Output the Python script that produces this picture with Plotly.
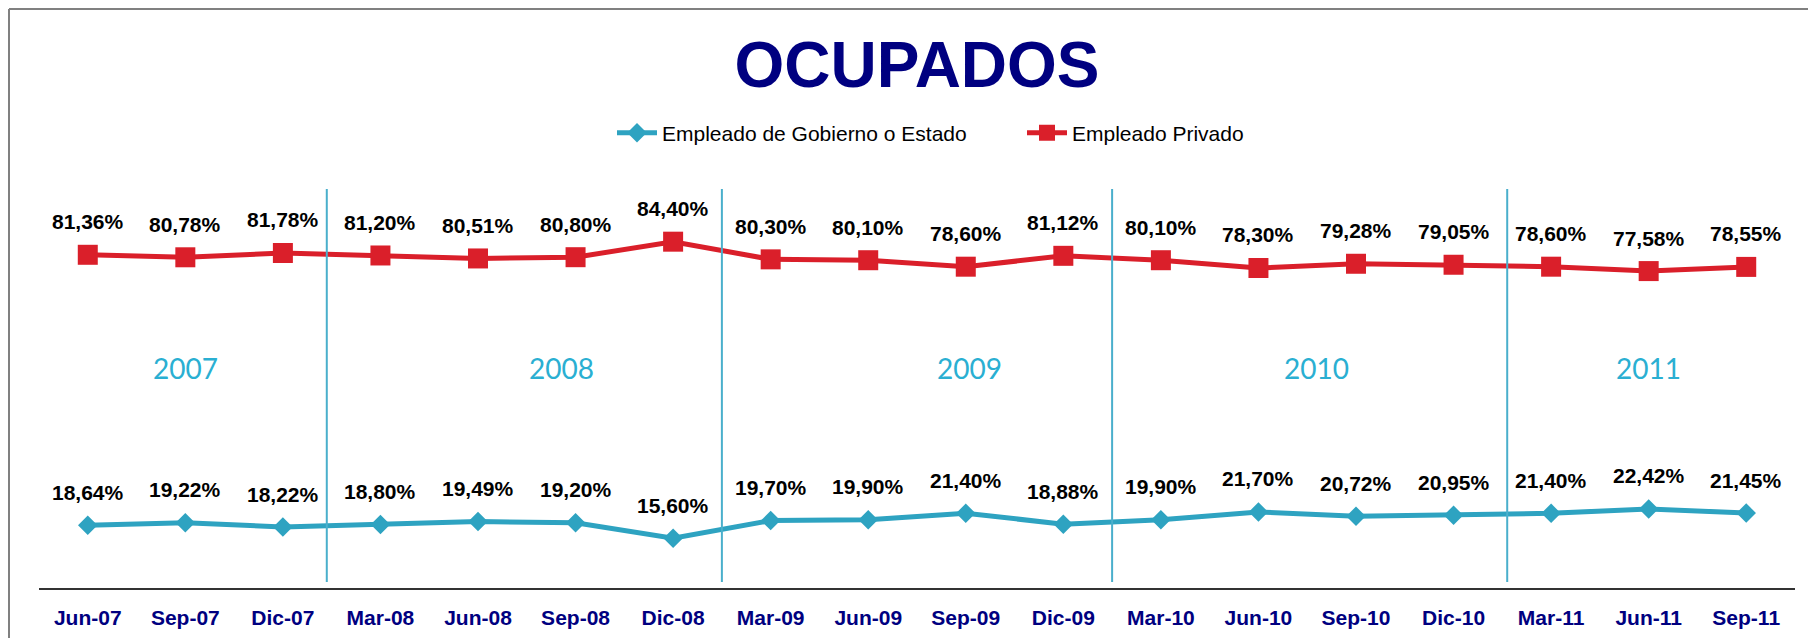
import plotly.graph_objects as go

categories = ["Jun-07", "Sep-07", "Dic-07", "Mar-08", "Jun-08", "Sep-08", "Dic-08",
              "Mar-09", "Jun-09", "Sep-09", "Dic-09", "Mar-10", "Jun-10", "Sep-10",
              "Dic-10", "Mar-11", "Jun-11", "Sep-11"]
gobierno = [18.64, 19.22, 18.22, 18.80, 19.49, 19.20, 15.60, 19.70, 19.90, 21.40,
            18.88, 19.90, 21.70, 20.72, 20.95, 21.40, 22.42, 21.45]
privado = [81.36, 80.78, 81.78, 81.20, 80.51, 80.80, 84.40, 80.30, 80.10, 78.60,
           81.12, 80.10, 78.30, 79.28, 79.05, 78.60, 77.58, 78.55]
years = ["2007", "2008", "2009", "2010", "2011"]
year_pos = [1.0, 4.86, 9.04, 12.6, 16.0]
separators = [2.45, 6.5, 10.5, 14.55]

RED = "#DA1F2A"
BLUE = "#2EA3C1"
NAVY = "#000080"
YEAR_C = "#2AAFD2"

x_idx = list(range(len(categories)))

fig = go.Figure()
fig.add_trace(go.Scatter(
    x=x_idx, y=gobierno, mode="lines+markers", name="Empleado de Gobierno o Estado",
    line=dict(color=BLUE, width=5),
    marker=dict(symbol="diamond", size=15, color=BLUE),
))
fig.add_trace(go.Scatter(
    x=x_idx, y=privado, mode="lines+markers", name="Empleado Privado",
    line=dict(color=RED, width=5),
    marker=dict(symbol="square", size=20, color=RED),
))

def fmt(v):
    return "<b>" + f"{v:.2f}".replace(".", ",") + "%</b>"

annotations = []
for series in (gobierno, privado):
    for i, v in enumerate(series):
        annotations.append(dict(
            x=i, y=v, xref="x", yref="y", text=fmt(v), showarrow=False,
            yshift=33, font=dict(family="Liberation Sans, Arial", size=21, color="#000000"),
            xanchor="center", yanchor="middle",
        ))
for yr, pos in zip(years, year_pos):
    annotations.append(dict(
        x=pos, y=55.1, xref="x", yref="y", text=yr, showarrow=False,
        font=dict(family="Lato, Noto Sans", size=28, color=YEAR_C),
        xanchor="center", yanchor="middle",
    ))

shapes = []
for s in separators:
    shapes.append(dict(type="line", xref="x", yref="y", x0=s, x1=s, y0=5.46, y1=96.62,
                       line=dict(color="#4AAFCC", width=2)))

# figure-pixel geometry (page has an 8px body margin)
L, R, T, B = 31, 1787, 181, 580
FW, FH = 1816, 638
W, H = R - L, B - T
px = lambda x: (x - L) / W
py = lambda y: (B - y) / H
shapes.append(dict(type="line", xref="paper", yref="paper", x0=px(1), x1=px(1),
                   y0=py(FH), y1=py(1), line=dict(color="#808080", width=2)))
shapes.append(dict(type="line", xref="paper", yref="paper", x0=px(1), x1=px(FW),
                   y0=py(1), y1=py(1), line=dict(color="#808080", width=2)))

fig.update_layout(
    width=FW, height=FH,
    margin=dict(l=L, r=FW - R, t=T, b=FH - B),
    paper_bgcolor="white", plot_bgcolor="white",
    title=dict(text="<b>OCUPADOS</b>", x=909 / FW, xref="container", xanchor="center",
               y=1 - 57 / FH, yref="container", yanchor="middle",
               font=dict(family="Liberation Sans, Arial", size=64, color=NAVY)),
    legend=dict(orientation="h", x=px(604), xanchor="left", y=py(125), yanchor="middle",
                font=dict(family="Liberation Sans, Arial", size=21, color="#000000"),
                itemwidth=40, entrywidth=355, bgcolor="rgba(0,0,0,0)"),
    showlegend=True,
    annotations=annotations,
    shapes=shapes,
    xaxis=dict(range=[-0.5, 17.5], tickmode="array", tickvals=x_idx,
               ticktext=["<b>" + c + "</b>" for c in categories],
               showgrid=False, zeroline=False, showline=True, linecolor="#333333", linewidth=1.5,
               ticks="", ticklabelstandoff=10,
               tickfont=dict(family="Liberation Sans, Arial", size=21, color=NAVY)),
    yaxis=dict(range=[4.07, 96.62], visible=False, showgrid=False, zeroline=False),
)

fig.write_html("out.html")
